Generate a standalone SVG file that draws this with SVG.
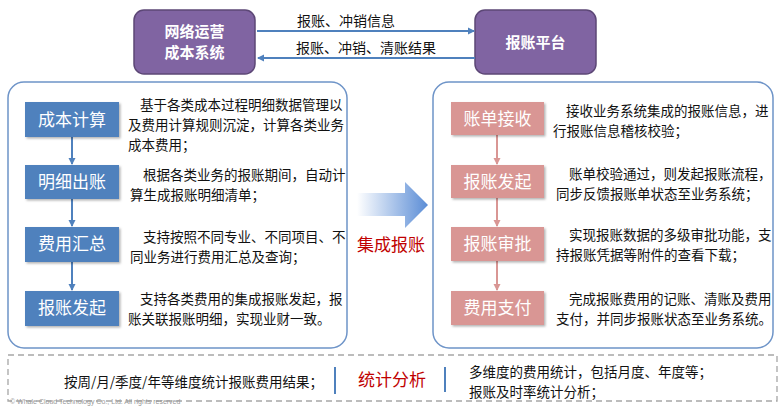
<svg xmlns="http://www.w3.org/2000/svg" width="784" height="408" viewBox="0 0 784 408">
<style>
text{font-family:"Noto Sans CJK SC","Liberation Sans",sans-serif;}
.sys{fill:#8064A2;stroke:#5C4776;stroke-width:1.5;}
.sysT{fill:#fff;font-size:15px;font-weight:bold;text-anchor:middle;}
.panel{fill:#fff;stroke:#6E94C8;stroke-width:1.5;}
.bb{fill:#4F81BD;filter:url(#sh);}
.pb{fill:#D99694;filter:url(#sh);}
.bt{fill:#fff;font-size:17px;text-anchor:middle;}
.d{fill:#111;font-size:13.5px;}
.lbl{fill:#111;font-size:14px;}
.red{fill:#C00000;font-size:17px;}
.bl{stroke:#4F81BD;stroke-width:2;fill:none;}
.pl{stroke:#D99694;stroke-width:2;fill:none;}
</style>
<defs>
<filter id="sh" x="-10%" y="-10%" width="130%" height="140%"><feDropShadow dx="1.5" dy="1.5" stdDeviation="1" flood-color="#000" flood-opacity="0.3"/></filter>
<marker id="ab" markerWidth="8" markerHeight="8" refX="6" refY="4" orient="auto" markerUnits="userSpaceOnUse"><path d="M0,0.5 L7,4 L0,7.5 Z" fill="#4F81BD"/></marker>
<marker id="ap" markerWidth="8" markerHeight="8" refX="6" refY="4" orient="auto" markerUnits="userSpaceOnUse"><path d="M0,0.5 L7,4 L0,7.5 Z" fill="#D99694"/></marker>
<linearGradient id="g" x1="0" y1="0" x2="1" y2="0"><stop offset="0" stop-color="#5B8DD6" stop-opacity="0"/><stop offset="1" stop-color="#5B8DD6"/></linearGradient>
</defs>
<rect width="784" height="408" fill="#fff"/>

<g id="network-system"><rect class="sys" x="134" y="10" width="121" height="64" rx="10"/><text class="sysT" x="194.5" y="37">网络运营</text><text class="sysT" x="194.5" y="58">成本系统</text></g>
<g id="reimb-platform"><rect class="sys" x="475" y="10" width="121" height="64" rx="10"/><text class="sysT" x="535.5" y="48">报账平台</text></g>

<g id="left-panel"><rect class="panel" x="8" y="82" width="339" height="266" rx="16"/></g>
<g id="right-panel"><rect class="panel" x="433" y="82" width="340" height="266" rx="16"/></g>

<g id="connectors">
<line class="bl" x1="257" y1="31" x2="474" y2="31" stroke-width="1.5" marker-end="url(#ab)"/>
<line class="bl" x1="475" y1="58" x2="258" y2="58" stroke-width="1.5" marker-end="url(#ab)"/>
<line class="bl" x1="72" y1="137" x2="72" y2="164" marker-end="url(#ab)"/>
<line class="bl" x1="72" y1="199" x2="72" y2="226" marker-end="url(#ab)"/>
<line class="bl" x1="72" y1="262" x2="72" y2="290" marker-end="url(#ab)"/>
<line class="pl" x1="497" y1="135" x2="497" y2="164" marker-end="url(#ap)"/>
<line class="pl" x1="497" y1="198" x2="497" y2="226" marker-end="url(#ap)"/>
<line class="pl" x1="497" y1="261" x2="497" y2="290" marker-end="url(#ap)"/>
<path d="M357,193 L405,193 L405,182 L428,205 L405,228 L405,216 L357,216 Z" fill="url(#g)"/>
</g>
<text class="lbl" x="297" y="26">报账、冲销信息</text>
<text class="lbl" x="296" y="53">报账、冲销、清账结果</text>
<text class="red" x="357" y="251">集成报账</text>

<g id="n-cost"><rect class="bb" x="25" y="102" width="94" height="35"/><text class="bt" x="72" y="126">成本计算</text>
<text class="d" x="140" y="110">基于各类成本过程明细数据管理以</text><text class="d" x="128" y="130">及费用计算规则沉淀，计算各类业务</text><text class="d" x="128" y="150">成本费用；</text></g>
<g id="n-detail"><rect class="bb" x="25" y="165" width="94" height="34"/><text class="bt" x="72" y="188">明细出账</text>
<text class="d" x="143" y="180">根据各类业务的报账期间，自动计</text><text class="d" x="130" y="200">算生成报账明细清单；</text></g>
<g id="n-summary"><rect class="bb" x="25" y="227" width="94" height="35"/><text class="bt" x="72" y="250">费用汇总</text>
<text class="d" x="143" y="242">支持按照不同专业、不同项目、不</text><text class="d" x="130" y="262">同业务进行费用汇总及查询；</text></g>
<g id="n-initiate-l"><rect class="bb" x="25" y="291" width="94" height="35"/><text class="bt" x="72" y="314">报账发起</text>
<text class="d" x="140" y="304">支持各类费用的集成报账发起，报</text><text class="d" x="128" y="324">账关联报账明细，实现业财一致。</text></g>

<g id="n-receive"><rect class="pb" x="451" y="102" width="93" height="33"/><text class="bt" x="497.5" y="125">账单接收</text>
<text class="d" x="566" y="116">接收业务系统集成的报账信息，进</text><text class="d" x="553" y="136">行报账信息稽核校验；</text></g>
<g id="n-initiate-r"><rect class="pb" x="451" y="165" width="93" height="33"/><text class="bt" x="497.5" y="188">报账发起</text>
<text class="d" x="569" y="179">账单校验通过，则发起报账流程，</text><text class="d" x="556" y="199">同步反馈报账单状态至业务系统；</text></g>
<g id="n-approve"><rect class="pb" x="451" y="227" width="93" height="34"/><text class="bt" x="497.5" y="250">报账审批</text>
<text class="d" x="569" y="240">实现报账数据的多级审批功能，支</text><text class="d" x="556" y="260">持报账凭据等附件的查看下载；</text></g>
<g id="n-pay"><rect class="pb" x="451" y="291" width="93" height="34"/><text class="bt" x="497.5" y="314">费用支付</text>
<text class="d" x="569" y="304">完成报账费用的记账、清账及费用</text><text class="d" x="556" y="324">支付，并同步报账状态至业务系统。</text></g>

<g id="stats">
<rect x="8" y="355" width="769" height="46" fill="none" stroke="#A6A6A6" stroke-width="1.3" stroke-dasharray="6,4"/>
<text class="d" x="64" y="387">按周/月/季度/年等维度统计报账费用结果；</text>
<line x1="335" y1="367" x2="335" y2="394" stroke="#4F81BD" stroke-width="2"/>
<text class="red" x="358" y="386">统计分析</text>
<line x1="445" y1="367" x2="445" y2="392" stroke="#4F81BD" stroke-width="2"/>
<text class="d" x="469" y="377">多维度的费用统计，包括月度、年度等；</text>
<text class="d" x="469" y="397">报账及时率统计分析；</text>
<text x="10" y="404" fill="#999" font-size="7" style="font-family:'Liberation Sans',sans-serif">© Whale Cloud Technology Co., Ltd. All rights reserved</text>
</g>
</svg>
